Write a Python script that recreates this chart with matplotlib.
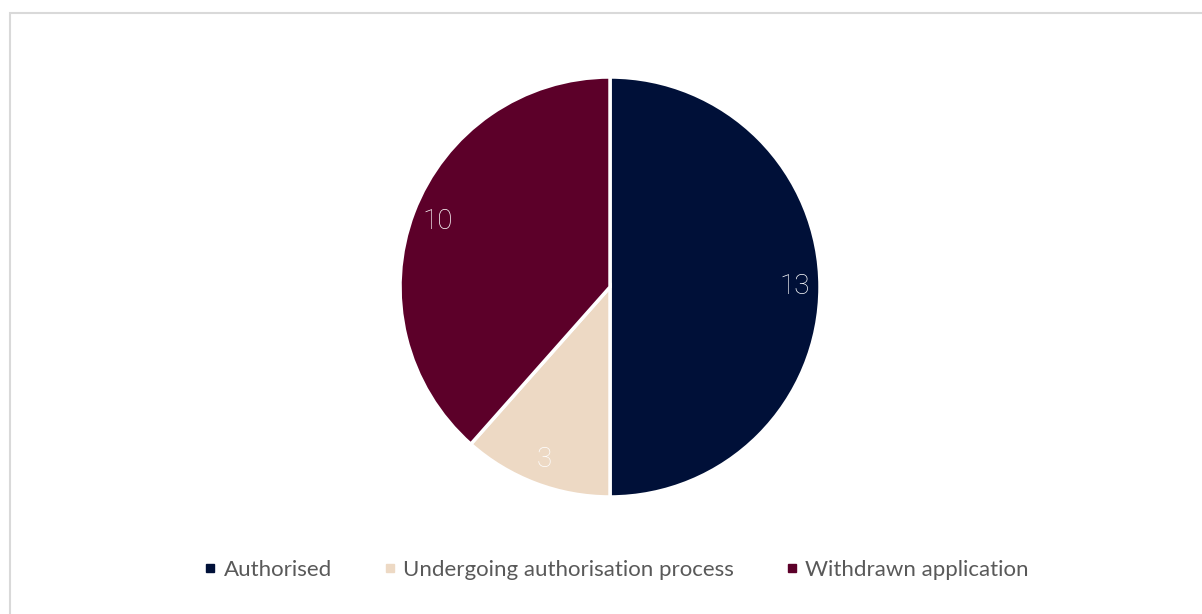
import matplotlib.pyplot as plt
from matplotlib.patches import Rectangle
from matplotlib.lines import Line2D

# data
labels = ['Authorised', 'Undergoing authorisation process', 'Withdrawn application']
counts = [13, 3, 10]
colors = ['#001038', '#EDD9C4', '#5C0029']

fig = plt.figure(figsize=(12.02, 6.14), dpi=100)

# chart border
fig.patches.append(Rectangle((10 / 1202, -0.1), 1.2, (614 - 13) / 614 + 0.1,
                             transform=fig.transFigure, fill=False,
                             edgecolor='#D9D9D9', linewidth=1.5))

ax = fig.add_axes([0.3328, 0.1906, 0.3494, 0.684])
wedges, texts, autotexts = ax.pie(
    counts, colors=colors, startangle=90, counterclock=False,
    autopct=lambda p: '{:.0f}'.format(p * sum(counts) / 100),
    pctdistance=0.88, radius=1.0,
    wedgeprops=dict(edgecolor='white', linewidth=2.5))
for t in autotexts:
    t.set_color('white')
    t.set_fontsize(20)
    t.set_family('Roboto')
    t.set_fontweight('light')
ax.set_xlim(-1, 1)
ax.set_ylim(-1, 1)
ax.set_aspect('equal')

handles = [Line2D([], [], marker='s', linestyle='', markersize=6,
                  markerfacecolor=c, markeredgecolor=c) for c in colors]
leg = fig.legend(handles, labels, loc='center', bbox_to_anchor=(0.5115, 0.072),
                 ncol=3, frameon=False, handletextpad=0.2, columnspacing=2.2,
                 handlelength=0.8, prop={'family': 'Lato', 'size': 16})
for t in leg.get_texts():
    t.set_color('#595959')

plt.savefig('out.png', dpi=100)
